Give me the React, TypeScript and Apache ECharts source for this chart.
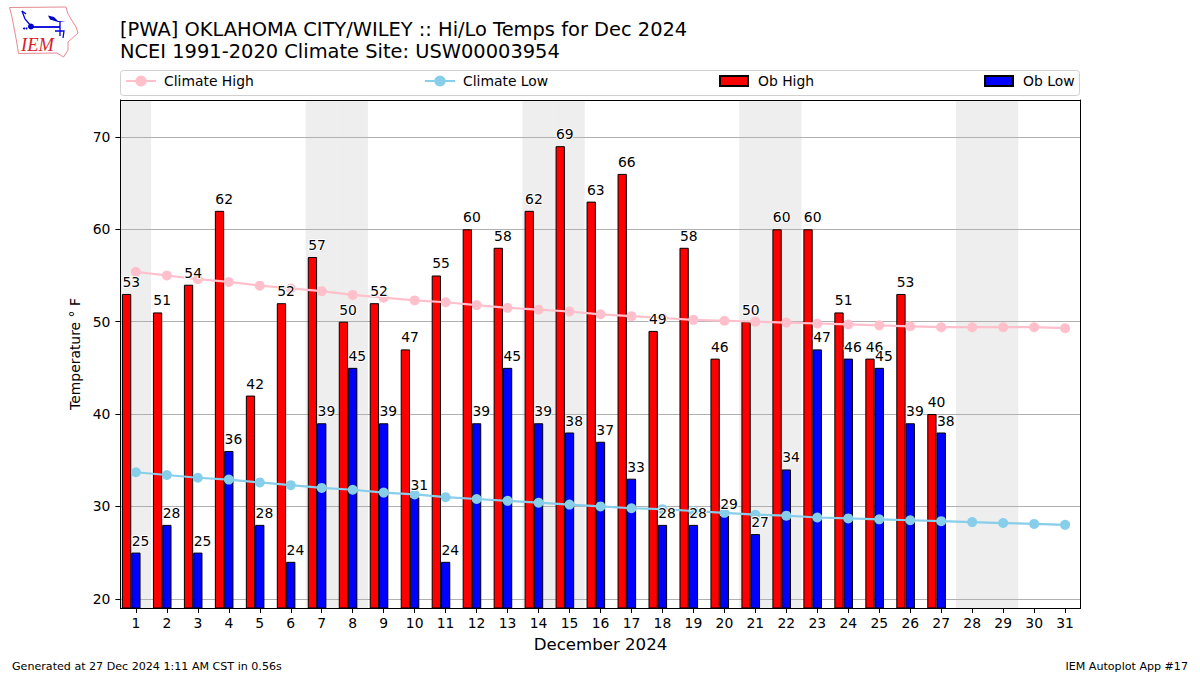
import React, { useEffect, useRef } from "react";
import * as echarts from "echarts";

const FONT = '"DejaVu Sans", sans-serif';
const days = ["1","2","3","4","5","6","7","8","9","10","11","12","13","14","15","16","17","18","19","20","21","22","23","24","25","26","27","28","29","30","31"];
const obHigh = [53,51,54,62,42,52,57,50,52,47,55,60,58,62,69,63,66,49,58,46,50,60,60,51,46,53,40];
const obLow = [25,28,25,36,28,24,39,45,39,31,24,39,45,39,38,37,33,28,28,29,27,34,47,46,45,39,38];
const climateHigh = [55.4,55.0,54.6,54.3,53.9,53.6,53.3,52.9,52.6,52.3,52.1,51.8,51.5,51.3,51.1,50.8,50.6,50.4,50.2,50.1,50.0,49.9,49.8,49.7,49.6,49.5,49.4,49.4,49.4,49.4,49.3];
const climateLow = [33.7,33.4,33.1,32.9,32.6,32.3,32.0,31.8,31.5,31.3,31.0,30.8,30.6,30.4,30.2,30.0,29.8,29.7,29.5,29.3,29.1,29.0,28.8,28.7,28.6,28.5,28.4,28.3,28.2,28.1,28.0];
const weekendDays = ["1","7","8","14","15","21","22","28","29"];
const yTicks = [20,30,40,50,60,70];
const yMin = 19;
const yMax = 74;
const titleLines = ["[PWA] OKLAHOMA CITY/WILEY :: Hi/Lo Temps for Dec 2024", "NCEI 1991-2020 Climate Site: USW00003954"];

const legendStyle = { fontSize: 13.9, color: "#000", fontFamily: FONT, padding: [0, 0, 0, 3] };
const barLegendStyle = { ...legendStyle, padding: [0, 0, 0, 5] };
const labelStyle = (dx: number) => ({
  show: true,
  position: "top" as const,
  distance: 4.5,
  offset: [dx, 0],
  fontSize: 13.9,
  fontFamily: FONT,
  color: "#000",
  opacity: 1,
  textBorderColor: "#fff",
  textBorderWidth: 2,
});

const logoStroke = { stroke: "#0000dd", lineWidth: 1.3, fill: "none" };

export default function App() {
  const ref = useRef<HTMLDivElement>(null);
  useEffect(() => {
    document.body.style.margin = "0";
    const chart = echarts.init(ref.current!, null, { renderer: "svg" });
    const axisBase = { type: "category" as const, data: days, boundaryGap: true };
    chart.setOption({
      animation: false,
      backgroundColor: "#fff",
      textStyle: { fontFamily: FONT },
      title: {
        text: titleLines.join("\n"),
        left: 120,
        top: 18,
        padding: 0,
        textStyle: { fontSize: 19.43, lineHeight: 22, fontWeight: "normal", color: "#000", fontFamily: FONT },
      },
      legend: [
        { data: ["Climate High"], left: 125, top: 74, padding: 0, itemWidth: 30, itemHeight: 14, textStyle: legendStyle },
        { data: ["Climate Low"], left: 424, top: 74, padding: 0, itemWidth: 30, itemHeight: 14, textStyle: legendStyle },
        { data: ["Ob High"], left: 719, top: 74, padding: 0, icon: "rect", itemWidth: 28, itemHeight: 10, textStyle: barLegendStyle },
        { data: ["Ob Low"], left: 984, top: 74, padding: 0, icon: "rect", itemWidth: 28, itemHeight: 10, textStyle: barLegendStyle },
      ],
      grid: [
        { left: 120.4, right: 119.4, top: 100, bottom: 67 },
        { left: 120, right: 120, top: 100, bottom: 67 },
      ],
      xAxis: [
        {
          ...axisBase,
          position: "bottom",
          z: 5,
          name: "December 2024",
          nameLocation: "middle",
          nameGap: 28,
          nameTextStyle: { fontSize: 16.6, color: "#000", fontFamily: FONT },
          axisLine: { show: true, lineStyle: { color: "#000", width: 1 } },
          axisTick: { show: true, alignWithLabel: true, length: 5, lineStyle: { color: "#000", width: 1 } },
          axisLabel: { show: true, interval: 0, fontSize: 13.9, color: "#000", margin: 8, fontFamily: FONT },
          splitLine: { show: false },
        },
        {
          ...axisBase,
          position: "top",
          axisLine: { show: true, lineStyle: { color: "#000", width: 1 } },
          axisTick: { show: false },
          axisLabel: { show: false },
          splitLine: { show: false },
        },
        { ...axisBase, gridIndex: 1, show: false },
      ],
      yAxis: [
        {
          type: "value",
          min: yMin,
          max: yMax,
          position: "left",
          name: "Temperature ° F",
          nameLocation: "middle",
          nameGap: 38,
          nameRotate: 90,
          nameTextStyle: { fontSize: 13.9, color: "#000", fontFamily: FONT },
          axisLine: { show: true, onZero: false, lineStyle: { color: "#000", width: 1 } },
          axisTick: { show: true, length: 5, customValues: yTicks, lineStyle: { color: "#000", width: 1 } },
          axisLabel: { show: true, customValues: yTicks, fontSize: 13.9, color: "#000", margin: 10, fontFamily: FONT },
          splitLine: { show: true, lineStyle: { color: "#b0b0b0", width: 1 } },
        },
        {
          type: "value",
          min: yMin,
          max: yMax,
          position: "right",
          axisLine: { show: true, onZero: false, lineStyle: { color: "#000", width: 1 } },
          axisTick: { show: false },
          axisLabel: { show: false },
          splitLine: { show: false },
        },
        { type: "value", gridIndex: 1, min: yMin, max: yMax, show: false, splitLine: { show: false } },
      ],
      series: [
        {
          name: "Weekend",
          type: "bar",
          xAxisIndex: 2,
          yAxisIndex: 2,
          z: -1,
          barWidth: "101%",
          silent: true,
          itemStyle: { color: "#eeeeee" },
          data: days.map((d) => (weekendDays.includes(d) ? yMax : null)),
        },
        {
          name: "Ob High",
          type: "bar",
          barWidth: "30%",
          barGap: 0,
          z: 2,
          itemStyle: { color: "#ff0000", borderColor: "#000", borderWidth: 1 },
          data: obHigh,
        },
        {
          name: "Ob Low",
          type: "bar",
          barWidth: "30%",
          barGap: 0,
          z: 2,
          itemStyle: { color: "#0000ff", borderColor: "#000", borderWidth: 1 },
          data: obLow,
        },
        {
          name: "Spacer",
          type: "bar",
          barWidth: "30%",
          barGap: 0,
          data: days.map(() => null),
        },
        {
          name: "Climate High",
          type: "line",
          z: 3,
          symbol: "circle",
          symbolSize: 10,
          showAllSymbol: true,
          itemStyle: { color: "#ffc0cb" },
          lineStyle: { color: "#ffc0cb", width: 2.2 },
          data: climateHigh,
        },
        {
          name: "Climate Low",
          type: "line",
          z: 3,
          symbol: "circle",
          symbolSize: 10,
          showAllSymbol: true,
          itemStyle: { color: "#87ceeb" },
          lineStyle: { color: "#87ceeb", width: 2.2 },
          data: climateLow,
        },
        {
          name: "Ob High Labels",
          type: "scatter",
          z: 4,
          symbolSize: 1,
          silent: true,
          itemStyle: { color: "transparent", opacity: 1 },
          label: labelStyle(-4.65),
          data: obHigh,
        },
        {
          name: "Ob Low Labels",
          type: "scatter",
          z: 4,
          symbolSize: 1,
          silent: true,
          itemStyle: { color: "transparent", opacity: 1 },
          label: labelStyle(4.65),
          data: obLow,
        },
      ],
      graphic: [
        {
          type: "rect",
          shape: { x: 120.5, y: 70.5, width: 959, height: 25, r: 3 },
          style: { fill: "#fff", stroke: "#d0d0d0", lineWidth: 1 },
        },
        { type: "text", x: 12, y: 666, style: { text: "Generated at 27 Dec 2024 1:11 AM CST in 0.56s", fontSize: 11.1, fontFamily: FONT, fill: "#000", textAlign: "left", textVerticalAlign: "middle" } },
        { type: "text", x: 1188, y: 666, style: { text: "IEM Autoplot App #17", fontSize: 11.1, fontFamily: FONT, fill: "#000", textAlign: "right", textVerticalAlign: "middle" } },
        {
          type: "group",
          children: [
            {
              type: "polygon",
              shape: { points: [[9.5,7.5],[66,7],[68,14],[76,27],[78,33],[68,42],[68,50],[63.5,57],[57,53],[18.5,53.5],[16.5,41],[12,17]] },
              style: { fill: "#fff", stroke: "#e58a92", lineWidth: 1 },
            },
            { type: "polyline", shape: { points: [[22,11],[25,19],[31,26]] }, style: logoStroke },
            { type: "polyline", shape: { points: [[22,11],[26,14]] }, style: logoStroke },
            { type: "line", shape: { x1: 31, y1: 27, x2: 60, y2: 27 }, style: { ...logoStroke, lineWidth: 1.8 } },
            { type: "circle", shape: { cx: 31, cy: 26.5, r: 3 }, style: { fill: "#0000cc" } },
            { type: "polygon", shape: { points: [[48,15.5],[54,17],[58,21],[66,21],[58,22],[50,19.5]] }, style: { fill: "#0000cc" } },
            { type: "polyline", shape: { points: [[60,21],[60,36]] }, style: logoStroke },
            { type: "polyline", shape: { points: [[55,31],[64,31],[63,38]] }, style: logoStroke },
            { type: "circle", shape: { cx: 24, cy: 28.5, r: 1 }, style: { fill: "#0000cc" } },
            { type: "circle", shape: { cx: 26.5, cy: 28.5, r: 1 }, style: { fill: "#0000cc" } },
            { type: "text", x: 21, y: 45, style: { text: "IEM", fontSize: 18.5, fontStyle: "italic", fontFamily: '"Liberation Serif", serif', fill: "#d9202a", textVerticalAlign: "middle" } },
          ],
        },
      ],
    });
    return () => chart.dispose();
  }, []);
  return <div ref={ref} style={{ position: "absolute", left: 0, top: 0, width: 1200, height: 675 }} />;
}
